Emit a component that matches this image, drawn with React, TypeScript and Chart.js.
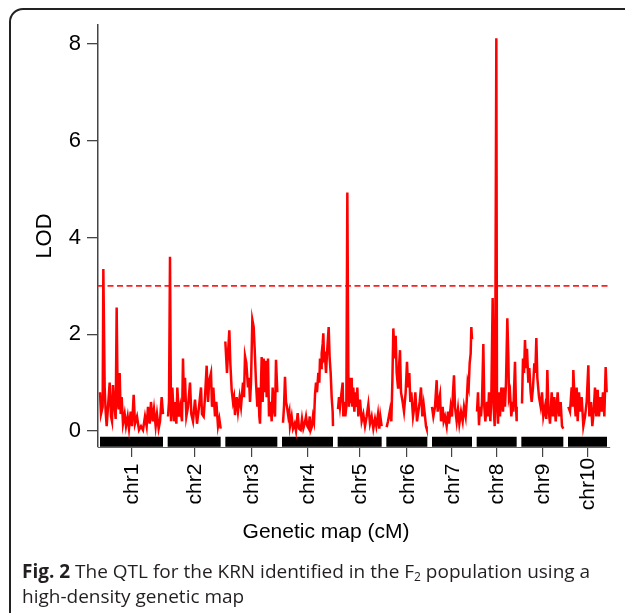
import React, { useEffect, useRef } from "react";
import { Chart, registerables } from "chart.js";

Chart.register(...registerables);

// ---------- data ----------
const chromosomeNames = ["chr1", "chr2", "chr3", "chr4", "chr5", "chr6", "chr7", "chr8", "chr9", "chr10"];
const chromosomeLengths = [189, 159, 156, 153, 132, 123, 120, 120, 126, 117]; // cM
const chromosomeGap = 14; // cM between chromosomes on the plot
const lodThreshold = 3;
const lodTicks = [0, 2, 4, 6, 8];
const xTitle = "Genetic map (cM)";
const yTitle = "LOD";

const chr1Pos = [0, 3, 8, 10, 14, 17, 20, 24, 29, 33, 36, 39, 42, 47, 50, 53, 56, 59, 62, 65, 69, 74, 78, 83, 87, 92, 96, 101, 105, 111, 117, 123, 129, 135, 140, 144, 149, 153, 158, 162, 167, 171, 176, 180, 185, 189];
const chr1Lod = [0.8, 0.35, 0.5, 3.35, 0.9, 0.4, 0.1, 0.5, 1.0, 0.3, 0.2, 0.95, 0.6, 0.25, 2.55, 0.6, 0.45, 1.2, 0.35, 0.7, 0.15, 0.35, 0.1, 0.3, 0.05, 0.4, 0.1, 0.75, 0.15, 0.3, 0.02, 0.1, 0.02, 0.3, 0.1, 0.5, 0.15, 0.6, 0.2, 0.45, 0.1, 0.35, 0.05, 0.2, 0.7, 0.35];

const chr2Pos = [1, 4, 7, 10, 14, 19, 22, 26, 29, 34, 38, 43, 46, 49, 52, 56, 61, 67, 71, 76, 82, 88, 94, 100, 103, 108, 112, 117, 121, 125, 130, 133, 137, 142, 146, 151, 155, 159];
const chr2Lod = [0.3, 0.6, 3.6, 0.2, 0.9, 0.2, 0.6, 0.15, 0.9, 0.3, 0.5, 0.2, 1.5, 0.6, 1.1, 0.3, 0.5, 1.0, 0.35, 0.2, 0.65, 0.15, 0.5, 0.9, 0.35, 0.3, 0.7, 1.35, 0.6, 1.05, 1.2, 0.5, 0.9, 0.3, 0.6, 0.1, 0.25, 0.05];

const chr3Pos = [0, 5, 8, 12, 15, 19, 23, 26, 29, 34, 38, 43, 47, 50, 53, 56, 59, 63, 68, 71, 74, 77, 81, 85, 88, 92, 96, 99, 102, 104, 109, 112, 115, 118, 121, 124, 128, 131, 135, 139, 142, 145, 149, 152, 156];
const chr3Lod = [1.85, 1.2, 1.6, 2.08, 1.4, 0.85, 0.6, 0.7, 0.33, 0.7, 0.4, 0.7, 0.5, 0.75, 1.0, 0.7, 1.55, 1.4, 0.9, 1.1, 0.6, 1.0, 2.3, 2.15, 1.7, 1.0, 0.5, 0.9, 0.3, 0.15, 1.53, 0.6, 1.5, 0.8, 1.45, 0.7, 1.5, 0.3, 0.6, 0.2, 0.9, 0.5, 0.3, 1.47, 0.8];

const chr4Pos = [3, 6, 9, 12, 15, 19, 22, 24, 29, 33, 38, 42, 47, 51, 56, 60, 64, 68, 72, 76, 80, 83, 86, 90, 93, 96, 99, 102, 105, 109, 112, 114, 117, 119, 122, 124, 126, 129, 132, 135, 140, 143, 146, 149, 152, 153];
const chr4Lod = [0.17, 0.5, 1.12, 0.6, 0.5, 0.3, 0.4, 0.1, 0.3, 0.05, 0.15, 0.0, 0.37, 0.05, 0.02, 0.25, 0.05, 0.15, 0.3, 0.1, 0.05, 0.3, 0.02, 0.1, 0.3, 0.2, 0.75, 1.0, 0.8, 1.2, 1.0, 1.5, 1.3, 1.6, 1.8, 2.02, 1.5, 1.55, 1.2, 1.6, 2.15, 1.5, 1.2, 0.7, 0.4, 0.1];

const chr5Pos = [1, 4, 7, 10, 15, 17, 20, 23, 26, 29, 32, 34, 37, 40, 42, 44, 47, 50, 53, 56, 59, 62, 67, 72, 77, 82, 87, 92, 97, 102, 107, 112, 116, 121, 125, 128, 132];
const chr5Lod = [0.45, 0.7, 0.5, 0.7, 1.0, 0.3, 0.6, 0.3, 0.5, 4.93, 1.2, 0.5, 1.1, 0.6, 1.1, 0.5, 0.9, 0.4, 0.8, 0.5, 0.9, 0.3, 0.65, 0.2, 0.35, 0.1, 0.3, 0.55, 0.15, 0.3, 0.05, 0.25, 0.1, 0.35, 0.05, 0.3, 0.1];

const chr6Pos = [1, 5, 11, 15, 18, 21, 25, 28, 31, 35, 37, 41, 44, 49, 53, 58, 62, 65, 69, 72, 75, 80, 84, 87, 92, 96, 100, 104, 108, 112, 116, 119, 121];
const chr6Lod = [0.08, 0.2, 0.43, 0.2, 1.0, 2.12, 1.5, 1.97, 1.2, 0.9, 1.2, 1.67, 0.8, 0.6, 0.4, 0.8, 1.43, 0.9, 1.2, 0.6, 0.8, 0.3, 0.5, 0.8, 0.2, 0.4, 0.6, 0.9, 0.3, 0.55, 0.3, 0.1, 0.05];

const chr7Pos = [0, 4, 9, 14, 17, 20, 24, 27, 32, 35, 39, 44, 48, 51, 56, 60, 63, 66, 69, 74, 78, 82, 87, 92, 96, 101, 104, 107, 110, 113, 116, 118, 120];
const chr7Lod = [0.5, 0.3, 0.5, 1.05, 0.4, 0.6, 0.75, 0.2, 0.5, 0.2, 0.3, 0.1, 0.4, 0.15, 0.5, 0.3, 0.8, 1.15, 0.5, 0.2, 0.45, 0.15, 0.4, 0.2, 0.5, 0.3, 0.6, 1.0, 0.9, 1.4, 1.6, 2.15, 1.9];

const chr8Pos = [1, 4, 7, 10, 13, 16, 20, 23, 26, 31, 34, 37, 41, 44, 48, 51, 54, 56, 59, 61, 64, 67, 70, 74, 79, 82, 85, 88, 92, 95, 97, 100, 104, 108, 110, 115, 118, 120];
const chr8Lod = [0.4, 0.8, 0.12, 0.5, 0.3, 0.6, 1.8, 0.5, 0.2, 0.6, 0.3, 0.8, 0.2, 0.7, 2.75, 0.5, 0.1, 2.0, 8.12, 0.5, 0.15, 0.8, 0.3, 0.9, 0.4, 0.9, 0.5, 1.0, 2.33, 1.53, 0.7, 0.8, 0.3, 0.6, 0.4, 1.43, 0.5, 0.2];

const chr9Pos = [2, 5, 8, 11, 14, 17, 21, 24, 28, 31, 35, 39, 42, 45, 48, 53, 58, 62, 66, 71, 75, 78, 81, 86, 91, 95, 99, 103, 109, 113, 118, 122, 126];
const chr9Lod = [0.57, 1.5, 1.2, 1.88, 1.3, 1.7, 1.0, 1.3, 0.8, 0.6, 0.9, 1.4, 1.2, 1.92, 1.1, 0.7, 0.5, 0.8, 0.3, 0.5, 0.25, 1.26, 0.5, 0.15, 0.8, 0.3, 0.7, 0.2, 0.8, 0.3, 0.6, 0.1, 0.05];

const chr10Pos = [1, 6, 11, 14, 16, 20, 23, 26, 29, 33, 37, 41, 46, 51, 56, 61, 64, 69, 73, 77, 81, 85, 89, 93, 97, 101, 105, 109, 113, 116];
const chr10Lod = [0.5, 0.4, 0.9, 0.5, 1.26, 0.6, 0.3, 0.9, 0.2, 0.8, 0.4, 0.7, 0.1, 0.3, 0.6, 1.36, 0.3, 0.6, 0.1, 0.4, 0.9, 0.3, 0.85, 0.3, 0.7, 0.4, 0.8, 0.3, 1.32, 0.8];

const chrPositions = [chr1Pos, chr2Pos, chr3Pos, chr4Pos, chr5Pos, chr6Pos, chr7Pos, chr8Pos, chr9Pos, chr10Pos];
const chrLods = [chr1Lod, chr2Lod, chr3Lod, chr4Lod, chr5Lod, chr6Lod, chr7Lod, chr8Lod, chr9Lod, chr10Lod];

// ---------- derived ----------
const chrOffsets: number[] = (() => {
  let acc = 0;
  return chromosomeLengths.map((len) => {
    const o = acc;
    acc += len + chromosomeGap;
    return o;
  });
})();
const totalLength = chrOffsets[chrOffsets.length - 1] + chromosomeLengths[chromosomeLengths.length - 1];
const chrCenters = chrOffsets.map((o, i) => o + chromosomeLengths[i] / 2);

const X_MIN = -6;
const X_MAX = totalLength + 9;
const Y_MIN = -0.331;
const Y_MAX = 8.392;
const BAND_Y = -0.225;

const FONT = '"Liberation Sans", Arial, Helvetica, sans-serif';

function buildLodPoints() {
  const pts: { x: number; y: number | null }[] = [];
  chrPositions.forEach((pos, i) => {
    pos.forEach((p, j) => pts.push({ x: chrOffsets[i] + p, y: chrLods[i][j] }));
    if (i < chrPositions.length - 1) {
      pts.push({ x: chrOffsets[i] + chromosomeLengths[i] + chromosomeGap / 2, y: null });
    }
  });
  return pts;
}

function buildBandPoints() {
  const pts: { x: number; y: number | null }[] = [];
  chrOffsets.forEach((o, i) => {
    pts.push({ x: o, y: BAND_Y });
    pts.push({ x: o + chromosomeLengths[i], y: BAND_Y });
    if (i < chrOffsets.length - 1) pts.push({ x: o + chromosomeLengths[i] + chromosomeGap / 2, y: null });
  });
  return pts;
}

const xLabelPlugin = {
  id: "chrLabels",
  afterDraw(chart: any) {
    const ctx = chart.ctx as CanvasRenderingContext2D;
    const xs = chart.scales.x;
    ctx.save();
    ctx.fillStyle = "#000";
    ctx.font = `21px ${FONT}`;
    ctx.textAlign = "center";
    ctx.textBaseline = "middle";
    chrCenters.forEach((c, i) => {
      const px = xs.getPixelForValue(c);
      ctx.save();
      ctx.translate(px + 1, xs.top + 37);
      ctx.rotate(-Math.PI / 2);
      ctx.fillText(chromosomeNames[i], 0, 0);
      ctx.restore();
    });
    ctx.font = `21px ${FONT}`;
    ctx.fillText(xTitle, 326, 532);
    ctx.restore();
  },
};

function LodChart() {
  const ref = useRef<HTMLCanvasElement | null>(null);
  useEffect(() => {
    if (!ref.current) return;
    const chart = new Chart(ref.current, {
      type: "line",
      data: {
        datasets: [
          {
            label: "bands",
            data: buildBandPoints() as any,
            borderColor: "#000",
            borderWidth: 10,
            borderCapStyle: "butt",
            pointRadius: 0,
            spanGaps: false,
            order: 3,
          },
          {
            label: "threshold",
            data: [
              { x: X_MIN, y: lodThreshold },
              { x: totalLength + 3, y: lodThreshold },
            ] as any,
            borderColor: "rgb(255,30,30)",
            borderWidth: 1.6,
            borderDash: [6, 3.5],
            pointRadius: 0,
            order: 2,
          },
          {
            label: "LOD",
            data: buildLodPoints() as any,
            borderColor: "rgb(255,0,0)",
            borderWidth: 2.5,
            pointRadius: 0,
            spanGaps: false,
            tension: 0,
            order: 1,
          },
        ],
      },
      options: {
        responsive: false,
        animation: false,
        devicePixelRatio: 1,
        layout: { padding: { left: 20, top: 25, right: 15, bottom: 0 } },
        plugins: { legend: { display: false }, tooltip: { enabled: false } },
        scales: {
          x: {
            type: "linear",
            min: X_MIN,
            max: X_MAX,
            afterBuildTicks: (scale: any) => {
              scale.ticks = chrCenters.map((v) => ({ value: v }));
            },
            afterFit: (scale: any) => {
              scale.height = 113;
            },
            ticks: { display: false },
            grid: {
              display: true,
              drawOnChartArea: false,
              drawTicks: true,
              tickLength: 10,
              color: "#444",
              lineWidth: 1.2,
            },
            border: { display: true, color: "#666", width: 1 },
          },
          y: {
            type: "linear",
            min: Y_MIN,
            max: Y_MAX,
            afterBuildTicks: (scale: any) => {
              scale.ticks = lodTicks.map((v) => ({ value: v }));
            },
            afterFit: (scale: any) => {
              scale.width = 78;
            },
            ticks: {
              color: "#000",
              font: { size: 22, family: FONT },
              padding: 6,
              callback: (v: any) => String(v),
            },
            grid: {
              display: true,
              drawOnChartArea: false,
              drawTicks: true,
              tickLength: 11,
              color: "#444",
              lineWidth: 1.3,
            },
            border: { display: true, color: "#444", width: 1.5 },
            title: {
              display: true,
              text: yTitle,
              color: "#000",
              font: { size: 22, family: FONT },
              padding: { top: 12, bottom: 0 },
            },
          },
        },
      },
      plugins: [xLabelPlugin],
    });
    return () => chart.destroy();
  }, []);
  return (
    <canvas
      ref={ref}
      width={625}
      height={560}
      style={{ position: "absolute", left: 0, top: 0, width: 625, height: 560, display: "block" }}
    />
  );
}

export default function App() {
  return (
    <div
      style={{
        position: "fixed",
        left: 0,
        top: 0,
        width: 625,
        height: 613,
        overflow: "hidden",
        background: "#fff",
      }}
    >
      <div
        style={{
          position: "absolute",
          left: 9,
          top: 8,
          width: 700,
          height: 700,
          border: "2px solid #222",
          borderRadius: 14,
          boxSizing: "border-box",
        }}
      />
      <LodChart />
      <div
        style={{
          position: "absolute",
          left: 22,
          top: 559,
          fontFamily: '"Open Sans", "Noto Sans", sans-serif',
          fontSize: 19,
          lineHeight: "25px",
          color: "#231f20",
          whiteSpace: "nowrap",
        }}
      >
        <span style={{ fontWeight: 700 }}>Fig. 2</span> The QTL for the KRN identified in the F
        <span style={{ fontSize: 12, verticalAlign: "-3px", lineHeight: 0 }}>2</span> population using a
        <br />
        high-density genetic map
      </div>
    </div>
  );
}
